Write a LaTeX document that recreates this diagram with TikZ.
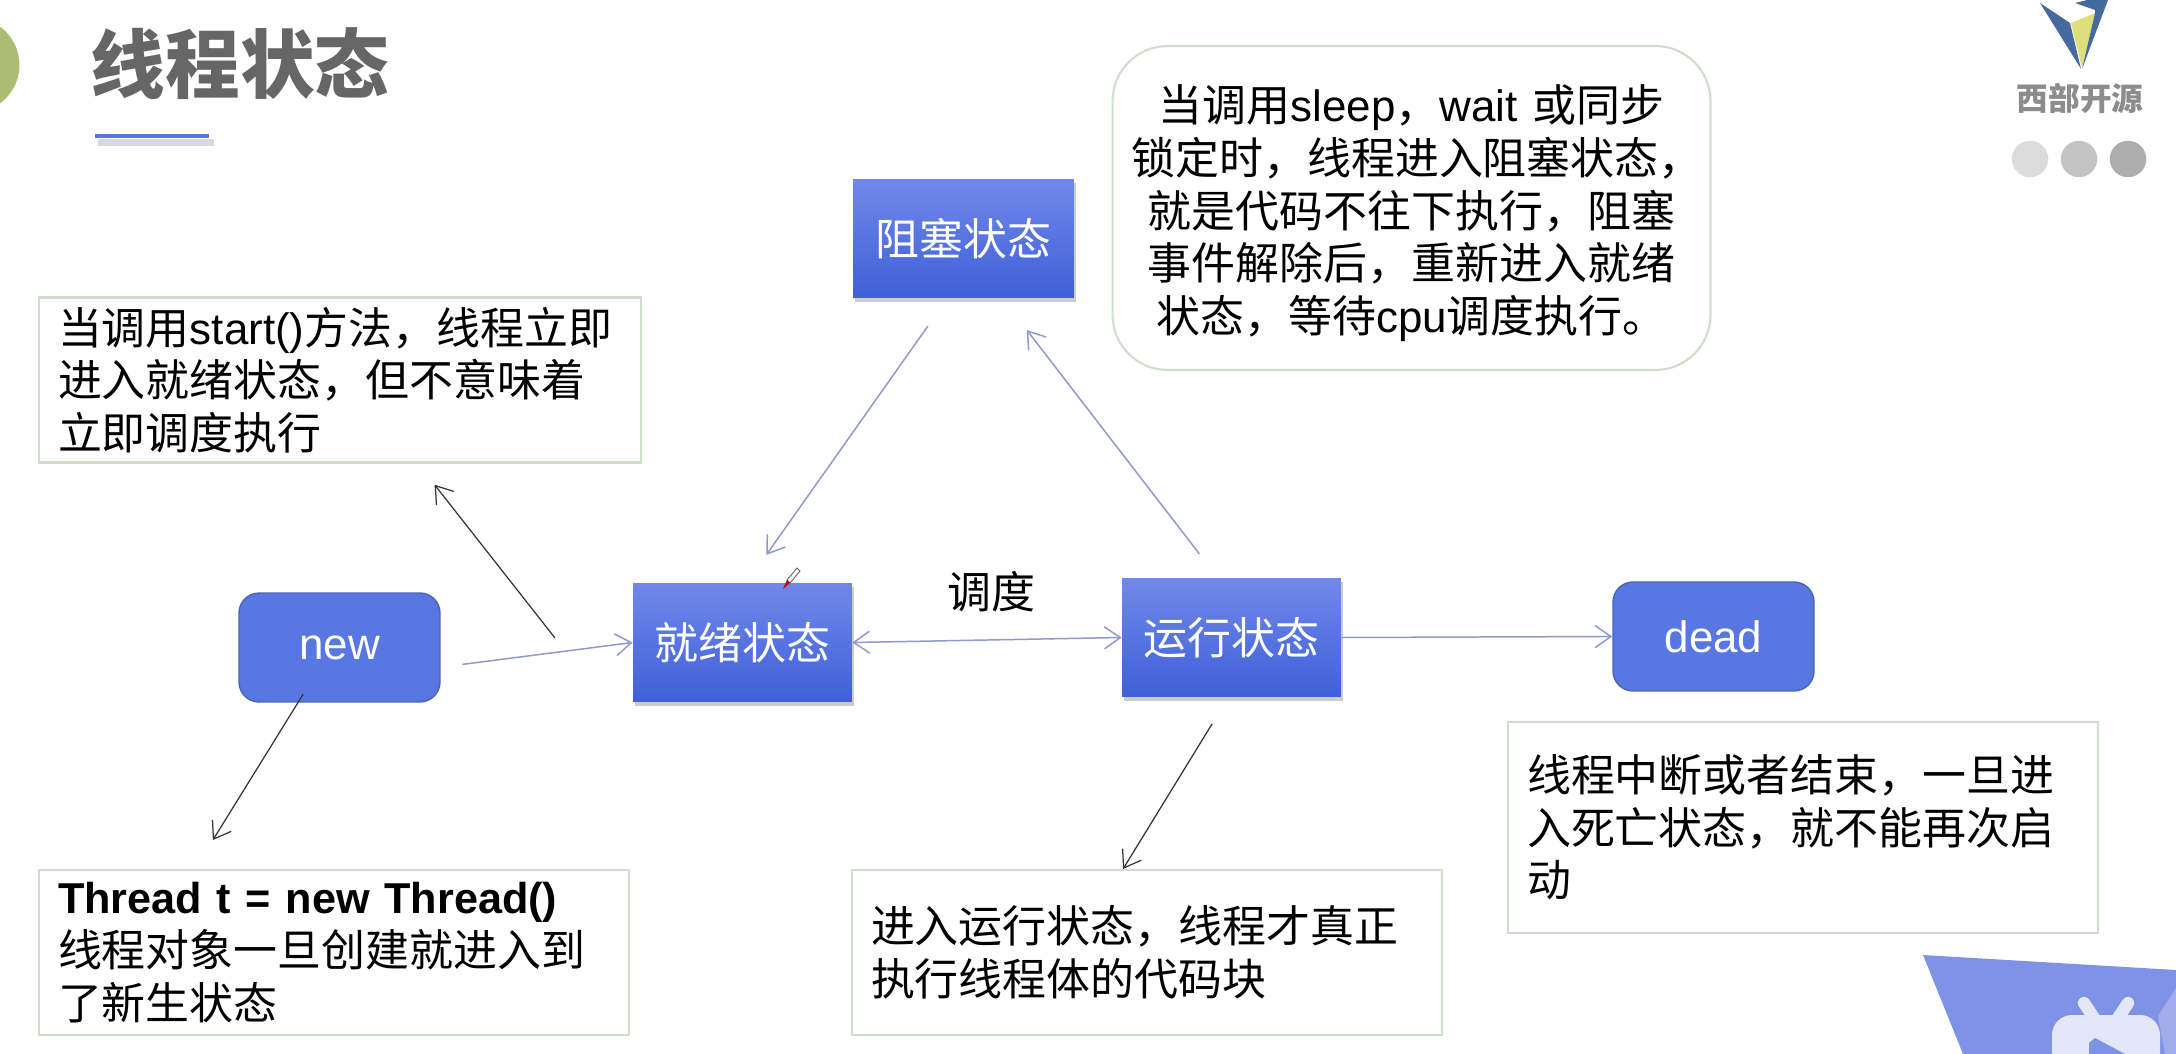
\documentclass[tikz,border=0pt]{standalone}
\usepackage{fontspec}
\setmainfont{Liberation Sans}
\newfontfamily\cjk{Noto Sans CJK SC}
\usepackage{xcolor}
\usepackage{tikz}
\usetikzlibrary{arrows.meta, shadows}
\definecolor{statetop}{HTML}{7088EA}
\definecolor{statebot}{HTML}{3F60D8}
\definecolor{flatblue}{HTML}{5877E0}
\definecolor{flatedge}{HTML}{4A65B8}
\definecolor{noteedge}{HTML}{CFDFCB}
\definecolor{flowblue}{HTML}{8F99CC}
\definecolor{cornerblue}{HTML}{7E93E6}
\definecolor{cornerpale}{HTML}{A0ADE8}
\definecolor{tvwhite}{HTML}{E3E7F8}
\definecolor{logoblue}{HTML}{46699E}
\definecolor{logoyellow}{HTML}{DEDE7A}
\definecolor{olive}{HTML}{ADBC72}
\newcommand{\zh}[1]{{\cjk #1}}

\begin{document}
\begin{tikzpicture}[
    x=0.02cm, y=-0.02cm,
    state/.style={rectangle, minimum width=4.38cm, minimum height=2.38cm, top color=statetop, bottom color=statebot, text=white, font=\fontsize{25}{30}\selectfont\cjk, drop shadow={shadow xshift=1pt, shadow yshift=-2.5pt, fill=black, opacity=0.2}},
    endstate/.style={rectangle, rounded corners=0.4cm, minimum width=4.02cm, minimum height=2.18cm, draw=flatedge, fill=flatblue, text=white, line width=0.8pt, font=\fontsize{25}{30}\selectfont},
    note/.style={rectangle, draw=noteedge, line width=1.2pt, fill=white, inner xsep=0.38cm, inner ysep=0pt, text width=11.04cm, minimum height=3.3cm, align=left, font=\fontsize{25}{30}\selectfont, text=black},
    flow/.style={->, >={Straight Barb[length=0.32cm, width=0.44cm]}, draw=flowblue, line width=0.85pt},
    link/.style={->, >={Straight Barb[length=0.32cm, width=0.44cm]}, draw=black!80, line width=0.7pt}
]
\path[use as bounding box, clip] (0,0) rectangle (2176,1054);

% Slide decoration
\fill[fill=olive] (-28,65) circle (0.95cm);
\node[text=black!60, font=\fontsize{42.5}{42.5}\selectfont\cjk\bfseries] (title) at (240,64) {线程状态};
\fill[fill=black!15] (98,139) rectangle (214,146);
\fill[fill=flatblue] (95,134) rectangle (209,138);

% Logo
\fill[fill=logoblue] (2040,3) -- (2070,23) -- (2081,69) -- cycle;
\fill[fill=logoyellow] (2071,23) -- (2095,13) -- (2082,68) -- cycle;
\fill[fill=logoblue] (2095,13) -- (2082,69) -- (2108,0) -- (2087,0) -- (2075,3) -- (2095,10) -- cycle;
\node[text=black!45, font=\fontsize{18}{18}\selectfont\cjk\bfseries] (logotext) at (2080,98) {西部开源};
\foreach \dotx/\doty in {2030/14, 2079/23, 2128/32} {
    \fill[fill=black!\doty] (\dotx,159) circle (0.365cm);
}

% Corner badge
\fill[fill=cornerblue] (1923,955) -- (2176,970) -- (2176,1054) -- (1963,1054) -- cycle;
\fill[fill=cornerpale] (2176,988) -- (2158,1016) -- (2165,1054) -- (2176,1054) -- cycle;
\fill[fill=tvwhite, rounded corners=0.4cm] (2052,1080) -- (2052,1015) -- (2160,1015) -- (2160,1080) -- cycle;
\draw[draw=tvwhite, line width=7pt, line cap=round] (2084,1003) -- (2094,1018);
\draw[draw=tvwhite, line width=7pt, line cap=round] (2128,1003) -- (2118,1018);
\fill[fill=cornerblue] (2089,1054) -- (2089,1043) -- (2095,1038) -- (2125,1054) -- cycle;

% State boxes
\node[endstate] (new) at (339.5,647.5) {new};
\node[state] (ready) at (742.5,642.5) {就绪状态};
\node[state] (running) at (1231.5,637.5) {运行状态};
\node[state, minimum width=4.42cm] (blocked) at (963.5,238.5) {阻塞状态};
\node[endstate] (dead) at (1713.5,636.5) {dead};

% Notes
\node[note, text width=11.28cm] (startnote) at (340,380) {\zh{当调用}start()\zh{方法，线程立即}\\\zh{进入就绪状态，但不意味着}\\\zh{立即调度执行}};
\node[note] (newnote) at (334,952.5) {{\fontsize{24.6}{30}\selectfont\textbf{Thread t = new Thread()}}\\\zh{线程对象一旦创建就进入到}\\\zh{了新生状态}};
\node[note] (runnote) at (1147,952.5) {\zh{进入运行状态，线程才真正}\\\zh{执行线程体的代码块}};
\node[note, minimum height=4.22cm] (deadnote) at (1803,827.5) {\zh{线程中断或者结束，一旦进}\\\zh{入死亡状态，就不能再次启}\\\zh{动}};
\node[note, rounded corners=1.1cm, text width=11.2cm, minimum height=6.48cm, align=center] (blocknote) at (1411.5,208) {\rule{0pt}{0.95cm}\zh{当调用}sleep\zh{，}wait \zh{或同步}\\\zh{锁定时，线程进入阻塞状态，}\\\zh{就是代码不往下执行，阻塞}\\\zh{事件解除后，重新进入就绪}\\\zh{状态，等待}cpu\zh{调度执行。}};

% Label
\node[font=\fontsize{25}{30}\selectfont\cjk] (schedule) at (991,592) {调度};

% Pen cursor
\fill[fill=white, draw=black!60, line width=0.5pt] (787,580) -- (797,568) -- (800,571) -- (790,583) -- cycle;
\fill[fill=red!80!black] (783,589) -- (787,580) -- (790,583) -- cycle;

% Arrows
\coordinate (startpt) at (555,638);
\draw[flow, shorten <=0.44cm] (new.-11.5) -- (ready.west);
\draw[flow, <->] (ready.east) -- (running.west);
\draw[flow] (running.east) -- (dead.west);
\draw[flow, shorten <=0.68cm, shorten >=0.68cm] (blocked.255.4) -- (ready.86.6);
\draw[flow, shorten <=0.6cm, shorten >=0.8cm] (running.103.2) -- (blocked.-57.8);
\draw[link, shorten >=0.54cm] (startpt) -- (startnote.-47.5);
\draw[link, shorten <=-0.2cm, shorten >=0.68cm] (new.233.7) -- (newnote.149.5);
\draw[link, shorten <=0.62cm] (running.267.6) -- (runnote.106.9);

\end{tikzpicture}
\end{document}
